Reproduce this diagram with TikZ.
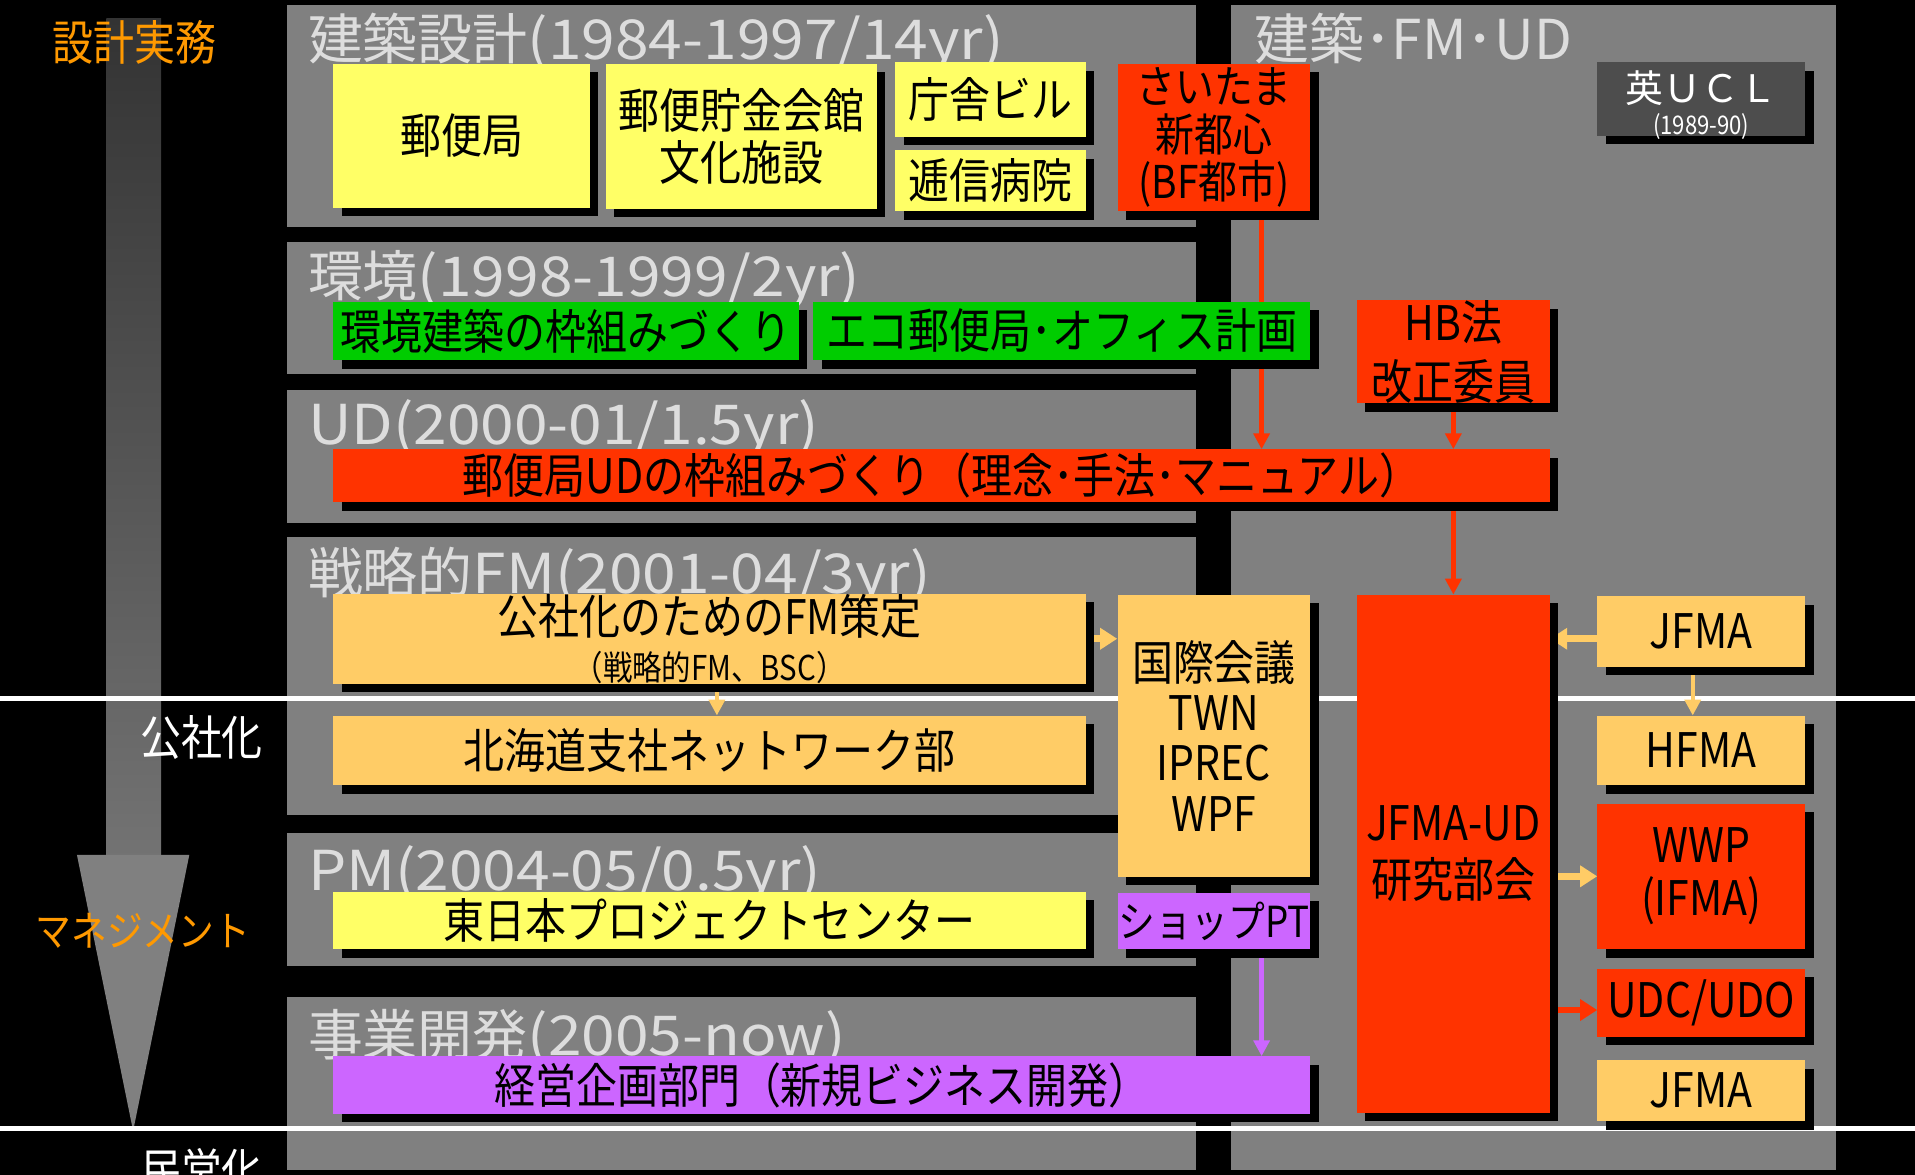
\documentclass[tikz,border=0pt]{standalone}
\usepackage{fontspec}
\setmainfont{Noto Sans CJK JP}
\newfontfamily\jpn[FakeStretch=0.86]{Noto Sans CJK JP}
\newfontfamily\jpw[FakeStretch=1.1]{Noto Sans CJK JP}
\usetikzlibrary{arrows.meta,shadows}

\definecolor{panelgray}{HTML}{808080}
\definecolor{titlegray}{HTML}{DDDDDD}
\definecolor{boxyellow}{HTML}{FFFF66}
\definecolor{boxred}{HTML}{FF3300}
\definecolor{boxgreen}{HTML}{00CC00}
\definecolor{boxorange}{HTML}{FFCC66}
\definecolor{boxpurple}{HTML}{CC66FF}
\definecolor{ucldark}{HTML}{4D4D4D}
\definecolor{labelorange}{HTML}{FF9900}

\pgfdeclarelayer{bg}
\pgfdeclarelayer{wires}
\pgfsetlayers{bg,wires,main}

\newcommand{\yrs}[1]{{\jpw #1}}

\tikzset{
  sz/.style 2 args={minimum width=#1pt, minimum height=#2pt},
  boxnode/.style={inner sep=0pt, align=center, text=black,
    font=\jpn\fontsize{39}{43}\selectfont,
    general shadow={fill=black, shadow xshift=7pt, shadow yshift=-7pt}},
  ptitle/.style={anchor=base west, inner sep=0pt, text=titlegray,
    font=\fontsize{45}{50}\selectfont},
  lab/.style={inner sep=0pt, font=\jpn\fontsize{39}{43}\selectfont},
  thinarr/.style={line width=3.5pt, -{Triangle[length=13pt,width=13pt]}},
  thickarr/.style={line width=5.5pt, -{Triangle[length=14pt,width=17pt]}}
}

\begin{document}
\begin{tikzpicture}[x=1pt,y=-1pt]
  \useasboundingbox (0,0) rectangle (1568,962);

  \begin{pgfonlayer}{bg}
    \fill[black] (0,0) rectangle (1568,962);
    \foreach \ya/\yb in {4/186,198/306,319/428,440/667,682/791,816/958}
      \fill[panelgray] (235,\ya) rectangle (979,\yb);
    \fill[panelgray] (1008,4) rectangle (1503,958);

    \node[ptitle] (t1) at (252,49)  {建築設計\yrs{(1984-1997/14yr)}};
    \node[ptitle] (t2) at (252,243) {環境\yrs{(1998-1999/2yr)}};
    \node[ptitle] (t3) at (252,364) {\yrs{UD(2000-01/1.5yr)}};
    \node[ptitle] (t4) at (252,486) {戦略的\yrs{FM(2001-04/3yr)}};
    \node[ptitle] (t5) at (252,729) {\yrs{PM(2004-05/0.5yr)}};
    \node[ptitle] (t6) at (252,864) {事業開発\yrs{(2005-now)}};
    \node[ptitle] (t7) at (1027,49) {建築･FM･UD};

    \shade[top color=black!80, bottom color=black!55] (87,15) rectangle (132,701);
    \fill[panelgray] (63,700) -- (155,700) -- (109,926) -- cycle;

    \draw[white, line width=4pt] (0,572) -- (1568,572);
    \draw[white, line width=4pt] (0,924) -- (1568,924);
  \end{pgfonlayer}

  \node[boxnode, fill=boxyellow, sz={210}{118}] (yubin) at (378,111) {郵便局};
  \node[boxnode, fill=boxyellow, sz={222}{119}] (chokin) at (607,111.5) {郵便貯金会館\\文化施設};
  \node[boxnode, fill=boxyellow, sz={156}{61}] (chosha) at (811,81.5) {庁舎ビル};
  \node[boxnode, fill=boxyellow, sz={156}{50}] (teishin) at (811,148) {逓信病院};
  \node[boxnode, fill=boxred, sz={158}{121}, font=\jpn\fontsize{37}{39}\selectfont] (saitama) at (994,112.5) {さいたま\\新都心\\(BF都市)};
  \node[boxnode, fill=ucldark, sz={170}{60}] (ucl) at (1393,81) {};
  \node[inner sep=0pt, text=white, font=\fontsize{31}{31}\selectfont] (uclname) at (1393,72) {英ＵＣＬ};
  \node[inner sep=0pt, text=white, font=\jpn\fontsize{21}{21}\selectfont] (uclyear) at (1393,104) {(1989-90)};

  \node[boxnode, fill=boxgreen, sz={381}{48}] (kankyo) at (463.5,271) {環境建築の枠組みづくり};
  \node[boxnode, fill=boxgreen, sz={407}{48}] (eco) at (869.5,271) {エコ郵便局･オフィス計画};
  \node[boxnode, fill=boxred, sz={158}{84}] (hb) at (1190,288) {HB法\\[5pt]改正委員};

  \node[boxnode, fill=boxred, sz={996}{43}] (udwaku) at (771,389.5) {郵便局UDの枠組みづくり（理念･手法･マニュアル）};

  \node[boxnode, fill=boxorange, sz={616}{72}] (fmsaku) at (581,523)
    {公社化のためのFM策定\\[-5pt]{\fontsize{28}{30}\selectfont （戦略的FM、BSC）}};
  \node[boxnode, fill=boxorange, sz={616}{57}] (hokkaido) at (581,614.5) {北海道支社ネットワーク部};
  \node[boxnode, fill=boxorange, sz={158}{231}, font=\jpn\fontsize{39}{41}\selectfont] (kokusai) at (994,602.5) {国際会議\\TWN\\IPREC\\WPF};
  \node[boxnode, fill=boxred, sz={158}{424}] (jfmaud) at (1190,699) {JFMA-UD\\[4pt]研究部会};
  \node[boxnode, fill=boxorange, sz={170}{58}] (jfma1) at (1393,517) {JFMA};
  \node[boxnode, fill=boxorange, sz={170}{57}] (hfma) at (1393,614.5) {HFMA};
  \node[boxnode, fill=boxred, sz={170}{119}] (wwp) at (1393,717.5) {WWP\\(IFMA)};
  \node[boxnode, fill=boxred, sz={170}{56}] (udc) at (1393,821) {UDC/UDO};
  \node[boxnode, fill=boxorange, sz={170}{50}] (jfma2) at (1393,893) {JFMA};

  \node[boxnode, fill=boxyellow, sz={616}{47}] (higashi) at (581,753.5) {東日本プロジェクトセンター};
  \node[boxnode, fill=boxpurple, sz={158}{46}, font=\jpn\fontsize{35}{40}\selectfont] (shop) at (994,754) {ショップPT};
  \node[boxnode, fill=boxpurple, sz={800}{47}] (keiei) at (673,888.5) {経営企画部門（新規ビジネス開発）};

  \begin{pgfonlayer}{wires}
    \draw[thinarr, boxred] ([xshift=39pt]saitama.south) -- ([xshift=39pt]saitama.south |- udwaku.north);
    \draw[thinarr, boxred] (hb.south) -- (hb.south |- udwaku.north);
    \draw[thinarr, boxred] (udwaku.south -| jfmaud.north) -- (jfmaud.north);
    \draw[thickarr, boxorange] (fmsaku.east) -- (fmsaku.east -| kokusai.west);
    \draw[thinarr, boxorange] ([xshift=6pt]fmsaku.south) -- ([xshift=6pt]hokkaido.north);
    \draw[thickarr, boxorange] ([yshift=-6pt]jfma1.west) -- ([yshift=-6pt]jfma1.west -| jfmaud.east);
    \draw[thinarr, boxorange] ([xshift=-7pt]jfma1.south) -- ([xshift=-7pt]hfma.north);
    \draw[thickarr, boxorange] (jfmaud.east |- wwp.west) -- (wwp.west);
    \draw[thickarr, boxred] ([yshift=-6pt]jfmaud.east |- udc.west) -- ([yshift=-6pt]udc.west);
    \draw[thinarr, boxpurple] ([xshift=39pt]shop.south) -- ([xshift=39pt]shop.south |- keiei.north);
  \end{pgfonlayer}

  \node[lab, text=labelorange] (jitsumu) at (110,35) {設計実務};
  \node[lab, text=white] (kosha) at (165,604) {公社化};
  \node[lab, text=labelorange, font=\jpn\fontsize{34}{40}\selectfont] (manage) at (117,762) {マネジメント};
  \node[lab, text=white] (minei) at (165,958) {民営化};
\end{tikzpicture}
\end{document}
